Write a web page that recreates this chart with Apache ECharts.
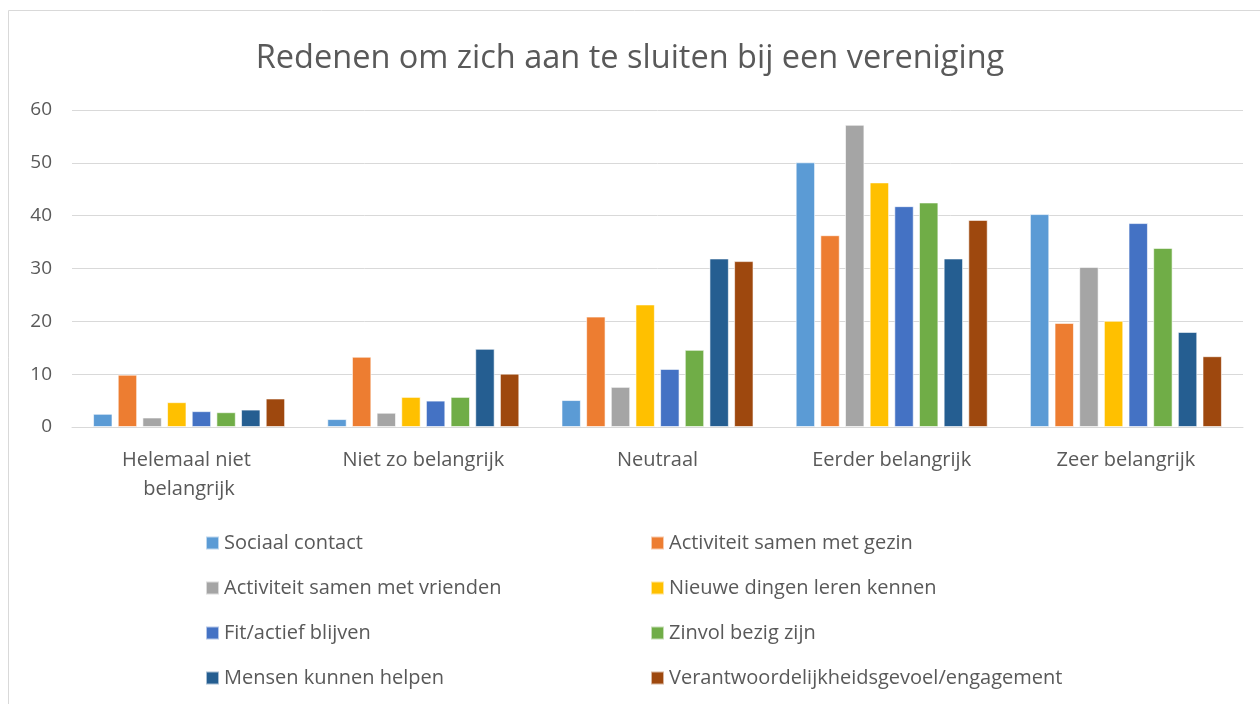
<!DOCTYPE html>
<html lang="nl">

<head>
	<meta charset="UTF-8">
	<title>Redenen om zich aan te sluiten bij een vereniging</title>
	<script src="https://cdn.jsdelivr.net/npm/echarts@6/dist/echarts.min.js"></script>
	<style>
		html, body { margin: 0; padding: 0; background: #fff; }
	</style>
</head>

<body>
	<div id="main" style="width: 1260px;height: 704px;"></div>

	<script>
		// antwoordcategorieen (x-as)
		var categories = ['Helemaal niet belangrijk', 'Niet zo belangrijk', 'Neutraal', 'Eerder belangrijk', 'Zeer belangrijk'];

		// waarden per reden
		var sociaalContact = [2.5, 1.5, 5.1, 50.1, 40.3];
		var samenGezin = [9.9, 13.3, 20.9, 36.3, 19.7];
		var samenVrienden = [1.8, 2.7, 7.6, 57.2, 30.3];
		var nieuweDingen = [4.7, 5.7, 23.2, 46.3, 20.1];
		var fitBlijven = [3.0, 5.0, 11.0, 41.8, 38.6];
		var zinvolBezig = [2.8, 5.7, 14.6, 42.5, 33.9];
		var mensenHelpen = [3.3, 14.8, 31.9, 31.9, 18.0];
		var engagement = [5.4, 10.1, 31.4, 39.2, 13.4];

		var seriesNames = [
			'Sociaal contact',
			'Activiteit samen met gezin',
			'Activiteit samen met vrienden',
			'Nieuwe dingen leren kennen',
			'Fit/actief blijven',
			'Zinvol bezig zijn',
			'Mensen kunnen helpen',
			'Verantwoordelijkheidsgevoel/engagement'
		];
		var seriesData = [sociaalContact, samenGezin, samenVrienden, nieuweDingen, fitBlijven, zinvolBezig, mensenHelpen, engagement];
		var colors = ['#5B9BD5', '#ED7D31', '#A5A5A5', '#FFC000', '#4472C4', '#70AD47', '#255E91', '#9E480E'];

		var font = '"Open Sans", Lato, sans-serif';
		var textColor = '#595959';

		var chartDom = document.getElementById('main');
		var myChart = echarts.init(chartDom);

		var seriesList = [];
		for (var i = 0; i < seriesNames.length; i++) {
			seriesList.push({
				type: 'bar',
				name: seriesNames[i],
				data: seriesData[i],
				barGap: '27%',
				barCategoryGap: '18%',
				itemStyle: {
					color: colors[i],
					borderColor: 'rgba(255,255,255,0.6)',
					borderWidth: 1
				}
			});
		}

		var legendText = { fontFamily: font, fontSize: 20, color: textColor, lineHeight: 20 };

		var option = {
			animation: false,
			color: colors,
			title: {
				text: 'Redenen om zich aan te sluiten bij een vereniging',
				left: 'center',
				top: 37,
				textStyle: { fontFamily: font, fontSize: 32.5, fontWeight: 'normal', color: textColor }
			},
			graphic: [{
				type: 'rect',
				shape: { x: 8.5, y: 10.5, width: 1300, height: 800 },
				style: { fill: 'none', stroke: '#d9d9d9', lineWidth: 1 },
				silent: true
			}],
			legend: [{
				orient: 'vertical',
				left: 200,
				top: 528,
				itemWidth: 13,
				itemHeight: 13,
				itemGap: 25,
				icon: 'rect',
				textStyle: legendText,
				data: [seriesNames[0], seriesNames[2], seriesNames[4], seriesNames[6]]
			}, {
				orient: 'vertical',
				left: 645,
				top: 528,
				itemWidth: 13,
				itemHeight: 13,
				itemGap: 25,
				icon: 'rect',
				textStyle: legendText,
				data: [seriesNames[1], seriesNames[3], seriesNames[5], seriesNames[7]]
			}],
			grid: {
				left: 72,
				right: 17,
				top: 110,
				bottom: 277
			},
			xAxis: {
				type: 'category',
				data: categories,
				axisLine: { lineStyle: { color: '#d9d9d9', width: 1 } },
				axisTick: { show: false },
				axisLabel: {
					interval: 0,
					margin: 19,
					fontFamily: font,
					fontSize: 20,
					color: textColor,
					lineHeight: 29,
					width: 200,
					overflow: 'break'
				}
			},
			yAxis: {
				type: 'value',
				min: 0,
				max: 60,
				interval: 10,
				axisLine: { show: false },
				axisTick: { show: false },
				splitLine: { lineStyle: { color: '#d9d9d9', width: 1 } },
				axisLabel: {
					margin: 20,
					fontFamily: font,
					fontSize: 19,
					color: textColor
				}
			},
			series: seriesList
		};

		myChart.setOption(option);
	</script>
</body>

</html>
